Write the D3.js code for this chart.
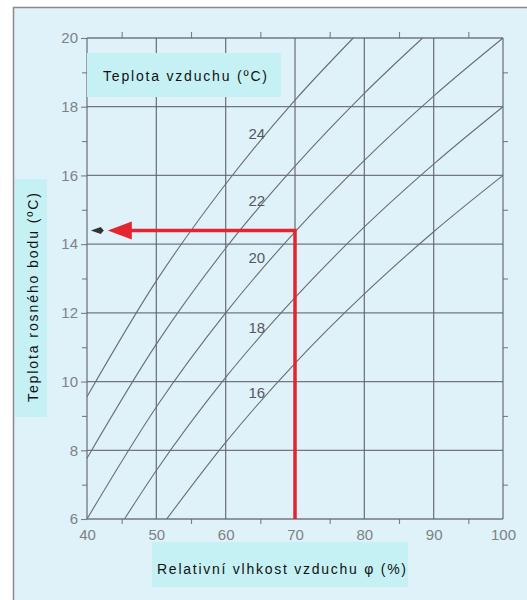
<!DOCTYPE html>
<html><head><meta charset="utf-8">
<script src="https://cdn.jsdelivr.net/npm/d3@7"></script>
<style>html,body{margin:0;padding:0;background:#fff;}svg{display:block;}</style>
</head><body>
<script>
// ---- data ----
const rhTicks = [40, 50, 60, 70, 80, 90, 100];
const rhMinor = [45, 55, 65, 75, 85, 95];
const tdTicks = [6, 8, 10, 12, 14, 16, 18, 20];
const tdMinor = [7, 9, 11, 13, 15, 17, 19];
const temps = [16, 18, 20, 22, 24];
// curves: relative humidity (%) -> dew point (°C)
const rh16 = [51.5, 60, 70, 80, 90, 100];
const td16 = [6.0, 8.23, 10.53, 12.55, 14.36, 16.0];
const rh18 = [45.4, 50, 60, 70, 80, 90, 100];
const td18 = [6.0, 7.41, 10.12, 12.44, 14.5, 16.33, 18.0];
const rh20 = [40, 50, 60, 70, 80, 90, 100];
const td20 = [6.0, 9.26, 12.0, 14.36, 16.44, 18.31, 20.0];
const rh22 = [40, 50, 60, 70, 80, 88.4];
const td22 = [7.77, 11.09, 13.88, 16.27, 18.39, 20.0];
const rh24 = [40, 50, 60, 70, 78.4];
const td24 = [9.56, 12.93, 15.75, 18.19, 20.0];
const labelRh = [64.5, 64.5, 64.5, 64.5, 64.5];
const labelTd = [9.67, 11.56, 13.6, 15.28, 17.23];
// example reading: 20 °C air at 70 % -> dew point ≈ 14.4 °C
const exampleRh = 70;
const exampleTd = 14.4;
const arrowEndRh = 43;
const titleText = "Teplota vzduchu (ºC)";
const xTitle = "Relativní vlhkost vzduchu φ (%)";
const yTitle = "Teplota rosného bodu (ºC)";

const W = 527, H = 600;
const svg = d3.select("body").append("svg").attr("width", W).attr("height", H);

// panel
svg.append("rect").attr("x", 13.5).attr("y", 7.5).attr("width", 540).attr("height", 620)
  .attr("fill", "#dff1f9").attr("stroke", "#8a8a8a").attr("stroke-width", 1.5);

const x = d3.scaleLinear().domain([40, 100]).range([87, 503]);
const y = d3.scaleLinear().domain([6, 20]).range([519, 38]);

const gridColor = "#5f6468";
const g = svg.append("g");

// grid lines (incl. frame)
g.selectAll(".vg").data(rhTicks).join("line")
  .attr("x1", d => x(d)).attr("x2", d => x(d)).attr("y1", y(6)).attr("y2", y(20))
  .attr("stroke", gridColor).attr("stroke-width", 1.3).attr("opacity", 0.85);
g.selectAll(".hg").data(tdTicks).join("line")
  .attr("y1", d => y(d)).attr("y2", d => y(d)).attr("x1", x(40)).attr("x2", x(100))
  .attr("stroke", gridColor).attr("stroke-width", 1.3).attr("opacity", 0.85);

// axes via d3 axis generators
const tickStyle = sel => {
  sel.select(".domain").remove();
  sel.selectAll(".tick line").attr("stroke", gridColor).attr("stroke-width", 1.1).attr("opacity", 0.8);
};
const lblStyle = sel => sel.selectAll("text").attr("fill", "#7d8285")
  .attr("font-family", "Liberation Sans, Arial, sans-serif").attr("font-size", 15);

svg.append("g").attr("transform", `translate(0,${y(6)})`)
  .call(d3.axisBottom(x).tickValues(rhTicks).tickSize(0).tickPadding(10).tickFormat(d3.format("d")))
  .call(tickStyle).call(lblStyle);
svg.append("g").attr("transform", `translate(0,${y(6)})`)
  .call(d3.axisBottom(x).tickValues(rhMinor).tickSize(5).tickFormat(""))
  .call(tickStyle);
svg.append("g").attr("transform", `translate(0,${y(20)})`)
  .call(d3.axisTop(x).tickValues(rhMinor).tickSize(6).tickFormat(""))
  .call(tickStyle);
svg.append("g").attr("transform", `translate(${x(40)},0)`)
  .call(d3.axisLeft(y).tickValues(tdTicks).tickSize(6).tickPadding(3).tickFormat(d3.format("d")))
  .call(tickStyle).call(lblStyle);
svg.append("g").attr("transform", `translate(${x(40)},0)`)
  .call(d3.axisLeft(y).tickValues(tdMinor).tickSize(5).tickFormat(""))
  .call(tickStyle);
svg.append("g").attr("transform", `translate(${x(100)},0)`)
  .call(d3.axisRight(y).tickValues(tdMinor).tickSize(5).tickFormat(""))
  .call(tickStyle);

// curves
const series = [[rh16, td16], [rh18, td18], [rh20, td20], [rh22, td22], [rh24, td24]];
const line = d3.line().x(d => x(d[0])).y(d => y(d[1])).curve(d3.curveMonotoneX);
g.selectAll(".curve").data(series).join("path")
  .attr("d", s => line(s[0].map((r, i) => [r, s[1][i]])))
  .attr("fill", "none").attr("stroke", "#6a6e72").attr("stroke-width", 1.1);

// curve labels
g.selectAll(".clab").data(temps).join("text")
  .attr("x", (d, i) => x(labelRh[i])).attr("y", (d, i) => y(labelTd[i]))
  .attr("text-anchor", "middle").attr("dominant-baseline", "central")
  .attr("font-family", "Liberation Sans, Arial, sans-serif").attr("font-size", 15)
  .attr("fill", "#555a5e").text(d => d);

// red example arrow
const redC = "#e42530";
svg.append("path")
  .attr("d", d3.line()([[x(exampleRh), y(6)], [x(exampleRh), y(exampleTd)], [x(arrowEndRh) + 22, y(exampleTd)]]))
  .attr("fill", "none").attr("stroke", redC).attr("stroke-width", 3.5).attr("stroke-linejoin", "miter");
const ax = x(arrowEndRh), ay = y(exampleTd);
svg.append("path")
  .attr("d", `M${ax},${ay} L${ax + 24},${ay - 9} L${ax + 24},${ay + 9} Z`)
  .attr("fill", redC);
// small black arrowhead
svg.append("path")
  .attr("d", `M${ax - 17},${ay} L${ax - 7},${ay - 3.5} L${ax - 4},${ay} L${ax - 7},${ay + 3.5} Z`)
  .attr("fill", "#333");

// title boxes
const boxC = "#c6f1f4";
const font = "Liberation Sans, Arial, sans-serif";
svg.append("rect").attr("x", 87).attr("y", 53).attr("width", 194).attr("height", 44).attr("fill", boxC);
svg.append("text").attr("x", 103).attr("y", 76).attr("dominant-baseline", "central")
  .attr("font-family", font).attr("font-size", 14).attr("fill", "#111")
  .attr("textLength", 164).attr("lengthAdjust", "spacing").text(titleText);

svg.append("rect").attr("x", 152).attr("y", 542).attr("width", 256).attr("height", 45).attr("fill", boxC);
svg.append("text").attr("x", 157).attr("y", 569).attr("dominant-baseline", "central")
  .attr("font-family", font).attr("font-size", 14).attr("fill", "#111")
  .attr("textLength", 249).attr("lengthAdjust", "spacing").text(xTitle);

svg.append("rect").attr("x", 15).attr("y", 179).attr("width", 32).attr("height", 238).attr("fill", boxC);
svg.append("text").attr("transform", "translate(33,402) rotate(-90)").attr("dominant-baseline", "central")
  .attr("font-family", font).attr("font-size", 14).attr("fill", "#111")
  .attr("textLength", 209).attr("lengthAdjust", "spacing").text(yTitle);
</script>
</body></html>
